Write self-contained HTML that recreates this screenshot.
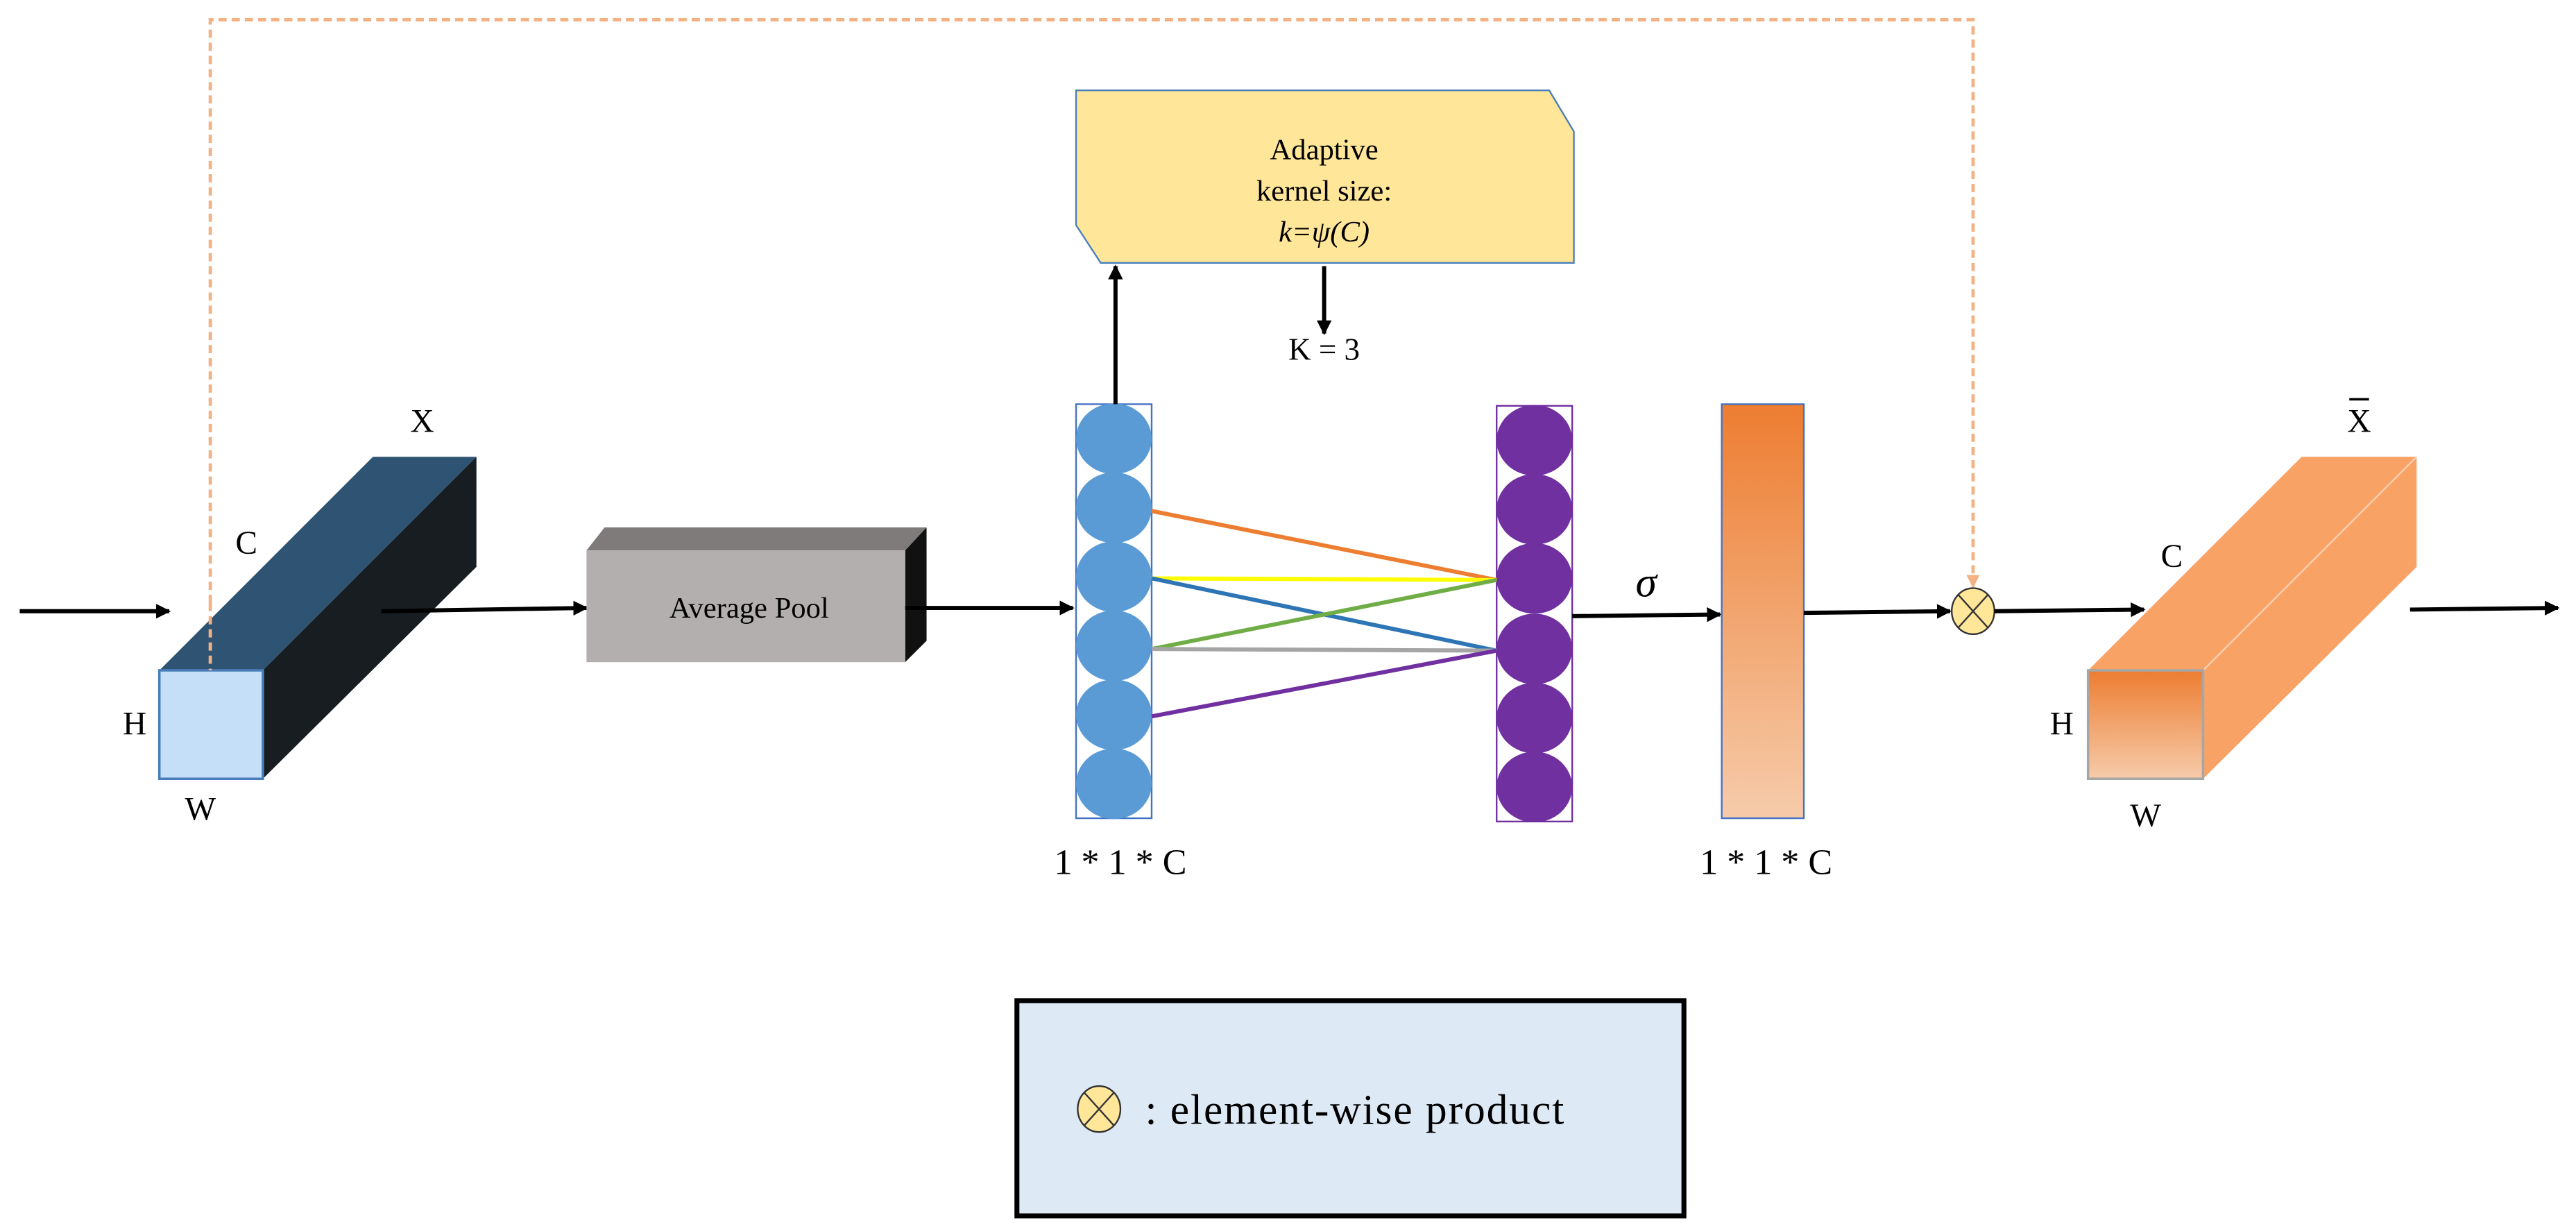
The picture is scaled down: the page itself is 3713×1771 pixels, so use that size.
<!DOCTYPE html>
<html><head><meta charset="utf-8"><style>
html,body{margin:0;padding:0;background:#fff}
svg{display:block}
text{font-family:"Liberation Serif",serif;fill:#000}
</style></head><body>
<svg width="3713" height="1771" viewBox="0 0 1568 748" preserveAspectRatio="none" xmlns="http://www.w3.org/2000/svg">
<defs>
<marker id="ah" markerWidth="9" markerHeight="9" refX="8" refY="4.5" orient="auto" markerUnits="userSpaceOnUse"><path d="M0,0 L9,4.5 L0,9 Z" fill="#000"/></marker>
<marker id="ao" markerWidth="8" markerHeight="8" refX="7" refY="4" orient="auto" markerUnits="userSpaceOnUse"><path d="M0,0 L8,4 L0,8 Z" fill="#f4b183"/></marker>
<linearGradient id="og" x1="0" y1="0" x2="0" y2="1"><stop offset="0" stop-color="#ed7d31"/><stop offset="1" stop-color="#f6cbaa"/></linearGradient>
<linearGradient id="og2" x1="0" y1="0" x2="0" y2="1"><stop offset="0" stop-color="#ed7d31"/><stop offset="1" stop-color="#f6cbaa"/></linearGradient>
</defs>
<polyline points="128,367 128,12 1201,12 1201,357" fill="none" stroke="#f4b183" stroke-width="2" stroke-dasharray="5,3" marker-end="url(#ao)"/>
<line x1="12" y1="372" x2="103" y2="372" stroke="#000" stroke-width="2.5" marker-end="url(#ah)"/>
<polygon points="97,408 227,278 290,278 160,408" fill="#2f5473"/>
<polygon points="160,408 290,278 290,345 160,474" fill="#181d22"/>
<rect x="97" y="408" width="63" height="66" fill="#c5dff8" stroke="#4a7ebb" stroke-width="1.5"/>
<line x1="128" y1="367" x2="128" y2="408" stroke="#f4b183" stroke-width="2" stroke-dasharray="5,3"/>
<text x="257" y="263" font-size="20" text-anchor="middle">X</text>
<text x="150" y="337" font-size="20" text-anchor="middle">C</text>
<text x="82" y="447" font-size="20" text-anchor="middle">H</text>
<text x="122" y="499" font-size="20" text-anchor="middle">W</text>
<line x1="232" y1="372" x2="357" y2="370" stroke="#000" stroke-width="2.5" marker-end="url(#ah)"/>
<polygon points="357,335 368,321 564,321 551,335" fill="#7f7b7b"/>
<polygon points="551,335 564,321 564,390 551,403" fill="#111"/>
<rect x="357" y="335" width="194" height="68" fill="#b3afaf"/>
<text x="456" y="376" font-size="18" text-anchor="middle">Average Pool</text>
<line x1="551" y1="370" x2="653" y2="370" stroke="#000" stroke-width="2.5" marker-end="url(#ah)"/>
<rect x="655" y="246" width="46" height="252" fill="#fff" stroke="#4472c4" stroke-width="1"/>
<g fill="#5b9bd5">
<ellipse cx="678" cy="267" rx="23" ry="21.5"/><ellipse cx="678" cy="309" rx="23" ry="21.5"/>
<ellipse cx="678" cy="351" rx="23" ry="21.5"/><ellipse cx="678" cy="393" rx="23" ry="21.5"/>
<ellipse cx="678" cy="435" rx="23" ry="21.5"/><ellipse cx="678" cy="477" rx="23" ry="21.5"/>
</g>
<rect x="911" y="247" width="46" height="253" fill="#fff" stroke="#7030a0" stroke-width="1"/>
<g fill="#7030a0">
<ellipse cx="934" cy="268" rx="23" ry="21.5"/><ellipse cx="934" cy="310" rx="23" ry="21.5"/>
<ellipse cx="934" cy="352" rx="23" ry="21.5"/><ellipse cx="934" cy="395" rx="23" ry="21.5"/>
<ellipse cx="934" cy="437" rx="23" ry="21.5"/><ellipse cx="934" cy="479" rx="23" ry="21.5"/>
</g>
<g stroke-width="2.5">
<line x1="701" y1="311" x2="911" y2="353" stroke="#ed7d31"/>
<line x1="701" y1="352" x2="911" y2="353" stroke="#ffff00"/>
<line x1="701" y1="352" x2="911" y2="396" stroke="#2e75b6"/>
<line x1="701" y1="395" x2="911" y2="353" stroke="#70ad47"/>
<line x1="701" y1="395" x2="911" y2="396" stroke="#a5a5a5"/>
<line x1="701" y1="436" x2="911" y2="396" stroke="#7030a0"/>
</g>
<polygon points="655,55 943,55 958,80 958,160 670,160 655,137" fill="#ffe699" stroke="#4a7ebb" stroke-width="1"/>
<text x="806" y="97" font-size="18" text-anchor="middle">Adaptive</text>
<text x="806" y="122" font-size="18" text-anchor="middle">kernel size:</text>
<text x="806" y="147" font-size="18" text-anchor="middle" font-style="italic">k=ψ(C)</text>
<line x1="679" y1="246" x2="679" y2="162" stroke="#000" stroke-width="2.5" marker-end="url(#ah)"/>
<line x1="806" y1="162" x2="806" y2="203" stroke="#000" stroke-width="2.5" marker-end="url(#ah)"/>
<text x="806" y="219" font-size="19" text-anchor="middle">K = 3</text>
<text x="682" y="532" font-size="22" text-anchor="middle">1 * 1 * C</text>
<text x="1002" y="363" font-size="26" font-style="italic" text-anchor="middle">σ</text>
<line x1="957" y1="375" x2="1047" y2="374" stroke="#000" stroke-width="2.5" marker-end="url(#ah)"/>
<rect x="1048" y="246" width="50" height="252" fill="url(#og)" stroke="#4472c4" stroke-width="1"/>
<text x="1075" y="532" font-size="22" text-anchor="middle">1 * 1 * C</text>
<line x1="1098" y1="373" x2="1187" y2="372" stroke="#000" stroke-width="2.5" marker-end="url(#ah)"/>
<ellipse cx="1201" cy="372" rx="13" ry="14" fill="#ffe699" stroke="#333" stroke-width="1"/>
<line x1="1192" y1="362" x2="1210" y2="382" stroke="#333" stroke-width="1"/>
<line x1="1210" y1="362" x2="1192" y2="382" stroke="#333" stroke-width="1"/>
<line x1="1214" y1="372" x2="1305" y2="371" stroke="#000" stroke-width="2.5" marker-end="url(#ah)"/>
<polygon points="1271,408 1401,278 1471,278 1341,408" fill="#f9a266"/>
<polygon points="1341,408 1471,278 1471,345 1341,474" fill="#f9a266"/>
<line x1="1341" y1="408" x2="1471" y2="278" stroke="#fbd0b0" stroke-width="1"/>
<rect x="1271" y="408" width="70" height="66" fill="url(#og2)" stroke="#a6a6a6" stroke-width="1.5"/>
<text x="1436" y="263" font-size="20" text-anchor="middle">X</text>
<line x1="1430" y1="243" x2="1442" y2="243" stroke="#000" stroke-width="1.5"/>
<text x="1322" y="345" font-size="20" text-anchor="middle">C</text>
<text x="1255" y="447" font-size="20" text-anchor="middle">H</text>
<text x="1306" y="503" font-size="20" text-anchor="middle">W</text>
<line x1="1467" y1="371" x2="1557" y2="370" stroke="#000" stroke-width="2.5" marker-end="url(#ah)"/>
<rect x="619" y="609" width="406" height="131" fill="#dde9f5" stroke="#000" stroke-width="3"/>
<ellipse cx="669" cy="675" rx="13" ry="14" fill="#ffe699" stroke="#333" stroke-width="1"/>
<line x1="660" y1="665" x2="678" y2="685" stroke="#333" stroke-width="1"/>
<line x1="678" y1="665" x2="660" y2="685" stroke="#333" stroke-width="1"/>
<text x="697" y="684" font-size="26" letter-spacing="0.8">: element-wise product</text>
</svg>
</body></html>
